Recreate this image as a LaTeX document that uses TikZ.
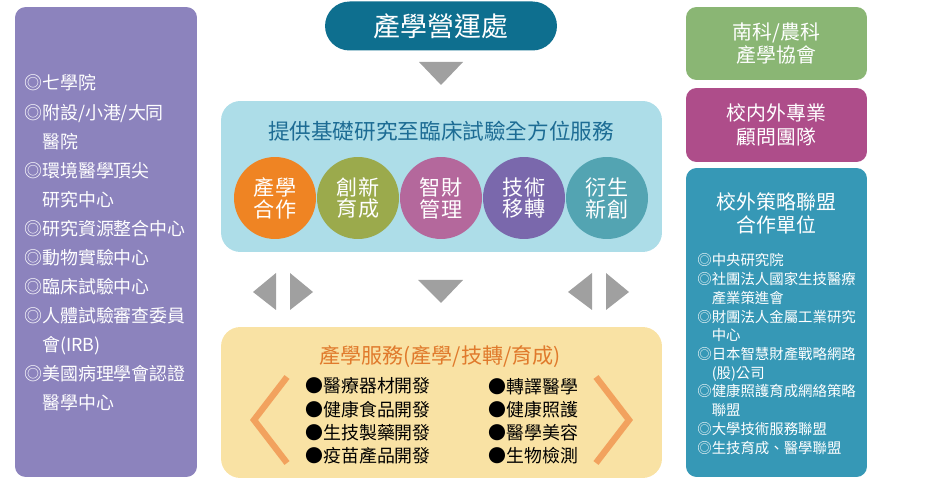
\documentclass[tikz,border=0pt]{standalone}
\usepackage{fontspec}
\setmainfont{Noto Sans CJK TC}
\usetikzlibrary{positioning}

\definecolor{unitpurple}{HTML}{8C83BD}
\definecolor{officeblue}{HTML}{0E6F8F}
\definecolor{arrgray}{HTML}{A0A0A0}
\definecolor{svcblue}{HTML}{ADDDE8}
\definecolor{svctext}{HTML}{1D6C94}
\definecolor{cOrange}{HTML}{EF8423}
\definecolor{cOlive}{HTML}{9BAA4C}
\definecolor{cMauve}{HTML}{B4689C}
\definecolor{cPurple}{HTML}{7A68AC}
\definecolor{cTeal}{HTML}{53A4B2}
\definecolor{indyellow}{HTML}{F9E2A4}
\definecolor{indtext}{HTML}{E07A2C}
\definecolor{chevron}{HTML}{F2A25E}
\definecolor{assocgreen}{HTML}{8AB674}
\definecolor{advmagenta}{HTML}{AE4D8A}
\definecolor{allyteal}{HTML}{3698B6}

\begin{document}
\begin{tikzpicture}[x=0.02cm,y=-0.02cm,
    panel/.style={rounded corners=6pt,inner sep=0pt},
    sidebox/.style={panel,minimum width=3.62cm,text=white,align=center,
        font=\fontsize{11.3}{13.6}\selectfont},
    ball/.style={circle,minimum size=1.64cm,inner sep=0pt,text=white,align=center,
        font=\fontsize{12}{12.5}\selectfont}]

    \useasboundingbox (0,0) rectangle (926,499);

    % left column
    \node[panel, fill=unitpurple, minimum width=3.64cm, minimum height=9.4cm] (units) at (106,242) {};
    \node[anchor=west, inner sep=0pt, text=white, align=left,
          font=\fontsize{10.2}{16.55}\selectfont] (unitlist) at (24,243)
        {◎七學院\\◎附設/小港/大同\\\phantom{◎}醫院\\◎環境醫學頂尖\\\phantom{◎}研究中心\\◎研究資源整合中心\\◎動物實驗中心\\◎臨床試驗中心\\◎人體試驗審查委員\\\phantom{◎}會(IRB)\\◎美國病理學會認證\\\phantom{◎}醫學中心};

    % center column
    \node[fill=officeblue, rounded corners=0.49cm, minimum width=4.64cm, minimum height=0.98cm,
          text=white, font=\fontsize{15.3}{16}\selectfont] (office) at (441,26) {產學營運處};
    \fill[arrgray] (419,62) -- (463,62) -- (441,85) -- cycle;

    \node[panel, fill=svcblue, rounded corners=11pt, minimum width=8.82cm, minimum height=3.02cm] (svc) at (441.5,176.5) {};
    \node[text=svctext, font=\fontsize{12.3}{13}\selectfont] (svctitle) at (441,131) {提供基礎研究至臨床試驗全方位服務};
    \node[ball, fill=cOrange] (coop) at (275,198) {產學\\合作};
    \node[ball, fill=cOlive] (incub) at (358,198) {創新\\育成};
    \node[ball, fill=cMauve] (ipm) at (441,198) {智財\\管理};
    \node[ball, fill=cPurple] (transfer) at (524,198) {技術\\移轉};
    \node[ball, fill=cTeal] (spinoff) at (607,198) {衍生\\新創};

    \fill[arrgray] (253,292) -- (276,273) -- (276,310) -- cycle;
    \fill[arrgray] (313,292) -- (290,273) -- (290,310) -- cycle;
    \fill[arrgray] (418,280) -- (463,280) -- (441,303) -- cycle;
    \fill[arrgray] (568,292) -- (592,273) -- (592,310) -- cycle;
    \fill[arrgray] (629,292) -- (606,273) -- (606,310) -- cycle;

    \node[panel, fill=indyellow, rounded corners=11pt, minimum width=8.82cm, minimum height=3.02cm] (ind) at (441.5,402.5) {};
    \node[text=indtext, font=\fontsize{12}{13}\selectfont] (indtitle) at (440,357) {產學服務(產學/技轉/育成)};
    \node[anchor=west, inner sep=0pt, align=left, font=\fontsize{10.2}{13.2}\selectfont] (indleft) at (305,421)
        {●醫療器材開發\\●健康食品開發\\●生技製藥開發\\●疫苗產品開發};
    \node[anchor=west, inner sep=0pt, align=left, font=\fontsize{10.2}{13.2}\selectfont] (indright) at (488,421)
        {●轉譯醫學\\●健康照護\\●醫學美容\\●生物檢測};
    \draw[chevron, line width=3.6pt] (287,377) -- (254,420) -- (287,463);
    \draw[chevron, line width=3.6pt] (596,377) -- (629,420) -- (596,463);

    % right column
    \node[sidebox, fill=assocgreen, minimum height=1.46cm] (assoc) at (776.5,43.5) {南科/農科\\產學協會};
    \node[sidebox, fill=advmagenta, minimum height=1.48cm] (advisor) at (776.5,125) {校内外專業\\顧問團隊};
    \node[panel, fill=allyteal, minimum width=3.62cm, minimum height=6.18cm] (ally) at (776.5,322.5) {};
    \node[text=white, align=center, font=\fontsize{11.3}{13}\selectfont] (allytitle) at (776.5,213.5) {校外策略聯盟\\合作單位};
    \node[anchor=west, inner sep=0pt, text=white, align=left,
          font=\fontsize{8.2}{10.66}\selectfont] (allylist) at (697,354)
        {◎中央研究院\\◎社團法人國家生技醫療\\\phantom{◎}產業策進會\\◎財團法人金屬工業研究\\\phantom{◎}中心\\◎日本智慧財產戰略網路\\\phantom{◎}(股)公司\\◎健康照護育成網絡策略\\\phantom{◎}聯盟\\◎大學技術服務聯盟\\◎生技育成、醫學聯盟};

\end{tikzpicture}
\end{document}
